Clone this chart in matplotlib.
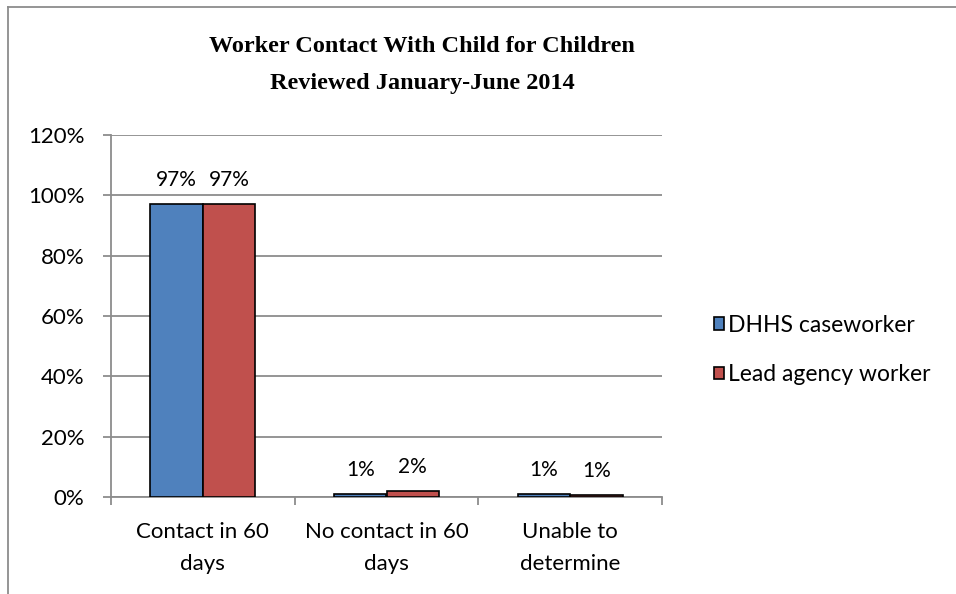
import matplotlib
matplotlib.use("Agg")
import matplotlib.pyplot as plt
from matplotlib.lines import Line2D
from matplotlib.patches import Patch
import numpy as np

categories = ["Contact in 60\ndays", "No contact in 60\ndays", "Unable to\ndetermine"]
series_names = ["DHHS caseworker", "Lead agency worker"]
dhhs = [0.97, 0.01, 0.01]
lead = [0.97, 0.02, 0.008]
colors = ["#4F81BD", "#C0504D"]
yticks = [0, 0.2, 0.4, 0.6, 0.8, 1.0, 1.2]

plt.rcParams['font.family'] = ['Lato', 'DejaVu Sans']

fig = plt.figure(figsize=(9.56, 5.94), dpi=100)
ax = fig.add_axes([111/956, 1 - 497/594, (662 - 111)/956, (497 - 135)/594])

x = np.arange(len(categories))
w = 0.285
for i, (vals, c) in enumerate(zip([dhhs, lead], colors)):
    pos = x + (i - 0.5) * w
    bars = ax.bar(pos, vals, w, color=c, edgecolor='black', linewidth=1.2, zorder=3)
    for b, v in zip(bars, vals):
        ax.annotate(f"{round(v * 100):.0f}%", (b.get_x() + b.get_width()/2, v),
                    xytext=(0, 10), textcoords='offset points',
                    ha='center', va='bottom', fontsize=15)

ax.set_xlim(-0.5, 2.5)
ax.set_ylim(0, 1.2)
ax.set_yticks(yticks)
ax.set_yticklabels([f"{int(round(t * 100))}%" for t in yticks], fontsize=16)
ax.yaxis.grid(True, color='#8c8c8c', linewidth=1.3, zorder=0)
ax.set_axisbelow(True)

ax.set_xticks(x)
ax.set_xticklabels(categories, fontsize=16, linespacing=1.75)
ax.tick_params(axis='x', length=0, pad=18)
ax.set_xticks([-0.5, 0.5, 1.5, 2.5], minor=True)
ax.tick_params(axis='x', which='minor', length=6, width=1.3, color='#8c8c8c')
ax.tick_params(axis='y', length=6, width=1.3, color='#8c8c8c', pad=13)

for s in ['top', 'right']:
    ax.spines[s].set_visible(False)
for s in ['left', 'bottom']:
    ax.spines[s].set_color('#8c8c8c')
    ax.spines[s].set_linewidth(1.3)

fig.text(422/956, 1 - 46/594, "Worker Contact With Child for Children",
         ha='center', va='center', fontsize=17.5, fontweight='bold',
         family='Liberation Serif')
fig.text(422/956, 1 - 84/594, "Reviewed January-June 2014",
         ha='center', va='center', fontsize=17.5, fontweight='bold',
         family='Liberation Serif')

handles = [Patch(facecolor=c, edgecolor='black', linewidth=1.2) for c in colors]
fig.legend(handles, series_names, loc='center left',
           bbox_to_anchor=(714/956, 1 - 350/594), frameon=False, fontsize=16.5,
           borderpad=0, borderaxespad=0,
           handlelength=0.45, handleheight=0.45, handletextpad=0.15, labelspacing=1.25)

# chart frame
fig.add_artist(Line2D([8/956, 8/956], [0, 1 - 7/594], color='#8c8c8c', linewidth=1.3))
fig.add_artist(Line2D([8/956, 1], [1 - 7/594, 1 - 7/594], color='#8c8c8c', linewidth=1.3))

fig.savefig("out.png", dpi=100)
